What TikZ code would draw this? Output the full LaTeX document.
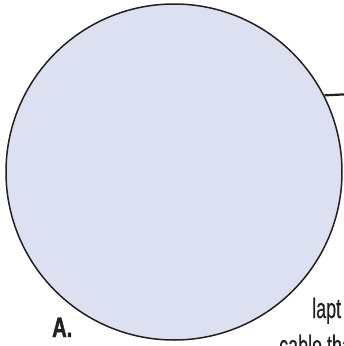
\documentclass[tikz,border=0pt]{standalone}
\usepackage{fontspec}
\setmainfont{Liberation Sans}
\newfontfamily\condfont[FakeStretch=0.64, FakeBold=0.4]{Liberation Sans}
\newfontfamily\condboldfont[FakeStretch=0.72, FakeBold=1.5]{Liberation Sans Bold}
\usetikzlibrary{positioning}
\definecolor{lensfill}{RGB}{221,224,240}
\definecolor{inkgray}{RGB}{35,31,32}

\begin{document}
\begin{tikzpicture}[x=1pt, y=-1pt,
  every node/.style={font=\condfont},
  lens/.style={circle, draw=inkgray, fill=lensfill, line width=1.5pt,
    minimum size=336pt, inner sep=0pt},
  leader/.style={draw=inkgray, line width=2.2pt},
  caption/.style={font=\condfont\fontsize{28}{34}\selectfont,
    text=inkgray, inner sep=0pt, anchor=base west},
  tag/.style={font=\condboldfont\fontsize{28}{32}\selectfont,
    text=inkgray, inner sep=0pt, anchor=base west},
]
\useasboundingbox (0,0) rectangle (344,346);

% ── detail circle
\node[lens] at (174,172) (detail) {};

% ── leader line out to the right
\coordinate (leaderend) at (352,94);
\draw[leader] (detail.27.7) -- (leaderend);

% ── texts
\node[tag]     at ( 52,337) (tagA)   {A.};
\node[caption] at (312,318) (lapt)   {lapt};
\node[caption] at (279,355) (cable)  {cable tha};

\end{tikzpicture}
\end{document}
